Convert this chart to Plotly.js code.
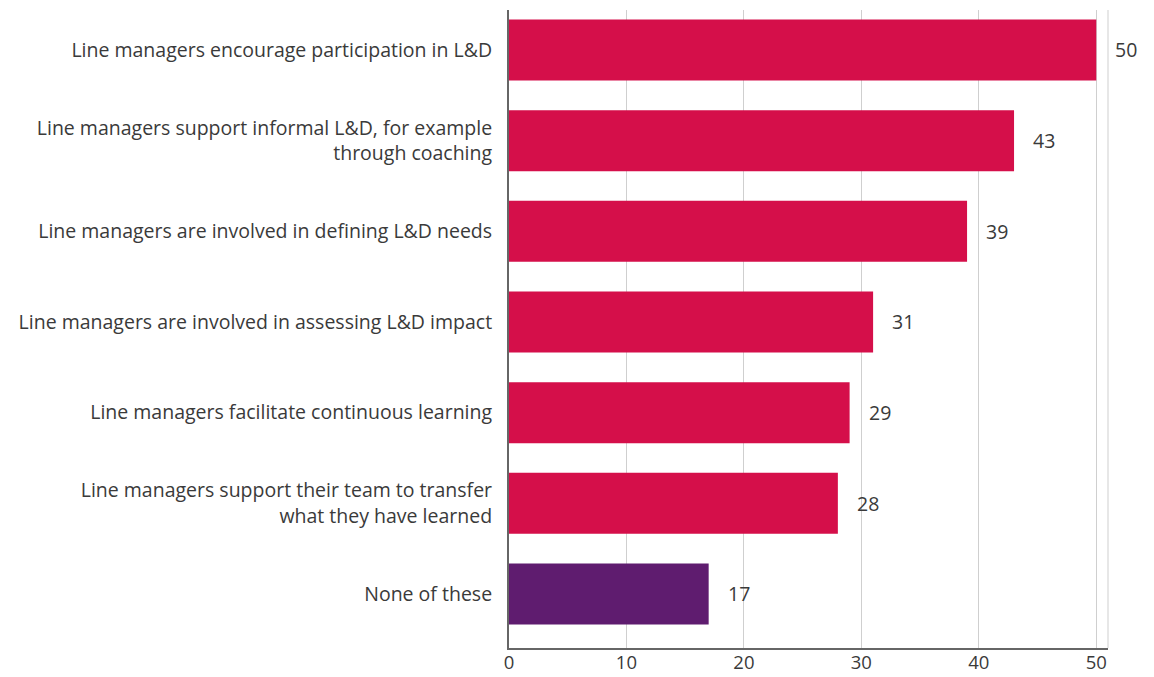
<!DOCTYPE html>
<html>
<head>
<meta charset="utf-8">
<script src="https://cdn.plot.ly/plotly-3.0.1.min.js"></script>
<style>html,body{margin:0;padding:0;background:#fff;}#chart{width:1154px;height:677px;}</style>
</head>
<body>
<div id="chart"></div>
<script>
const categories = [
  "Line managers encourage participation in L&D",
  "Line managers support informal L&D, for example<br>through coaching",
  "Line managers are involved in defining L&D needs",
  "Line managers are involved in assessing L&D impact",
  "Line managers facilitate continuous learning",
  "Line managers support their team to transfer<br>what they have learned",
  "None of these"
];
const values = [50, 43, 39, 31, 29, 28, 17];
const barColors = ["#D50F4A", "#D50F4A", "#D50F4A", "#D50F4A", "#D50F4A", "#D50F4A", "#5F1C6F"];
const xTickVals = [0, 10, 20, 30, 40, 50];
const xTickText = ["0", "10", "20", "30", "40", "50"];

const font = "Open Sans, Lato, sans-serif";
const fsize = 19.5;

const trace = {
  type: "bar",
  orientation: "h",
  y: categories,
  x: values,
  marker: {color: barColors},
  hoverinfo: "none"
};

const annotations = values.map((v, i) => ({
  x: v, y: categories[i], xref: "x", yref: "y",
  text: String(v), showarrow: false,
  xanchor: "left", xshift: 17,
  font: {family: font, size: fsize, color: "#3a3a3a"}
}));

const layout = {
  width: 1154, height: 677,
  margin: {l: 509, r: 46, t: 10, b: 29},
  paper_bgcolor: "#fff", plot_bgcolor: "#fff",
  bargap: 0.327,
  showlegend: false,
  font: {family: font, size: fsize, color: "#3a3a3a"},
  xaxis: {
    range: [0, 51],
    tickvals: xTickVals, ticktext: xTickText,
    showgrid: true, gridcolor: "#cfcfcf", gridwidth: 1,
    zeroline: false,
    showline: true, linecolor: "#666", linewidth: 2,
    ticks: "", ticklen: 0,
    ticklabelstandoff: -3,
    tickfont: {family: font, size: 18.5, color: "#3a3a3a"},
    fixedrange: true
  },
  yaxis: {
    type: "category",
    range: [6.596, -0.441],
    showgrid: false, zeroline: false,
    showline: true, linecolor: "#666", linewidth: 2,
    ticks: "outside", ticklen: 11, tickcolor: "rgba(0,0,0,0)",
    tickfont: {family: font, size: fsize, color: "#3a3a3a"},
    fixedrange: true
  },
  shapes: [{
    type: "line", xref: "paper", yref: "paper",
    x0: 1, x1: 1, y0: 0, y1: 1,
    line: {color: "#cfcfcf", width: 1}
  }],
  annotations: annotations
};

Plotly.newPlot("chart", [trace], layout, {displayModeBar: false, staticPlot: true});
</script>
</body>
</html>
